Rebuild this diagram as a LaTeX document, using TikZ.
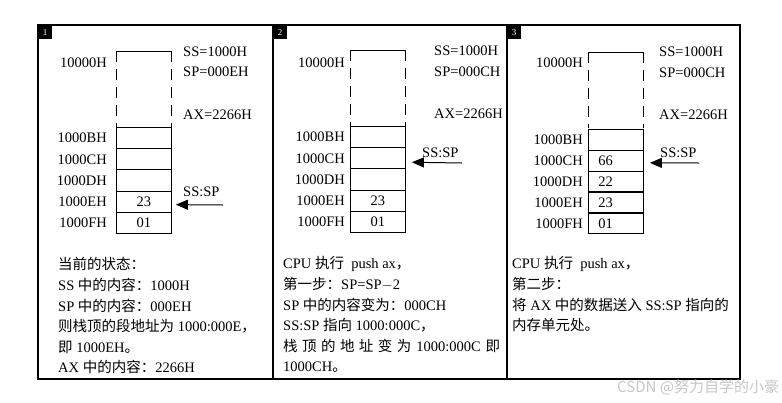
\documentclass[tikz,border=0pt]{standalone}
\usepackage{fontspec}
\setmainfont{Liberation Serif}
\newfontfamily\zhfont{Noto Sans CJK SC}
\newcommand{\zh}[1]{{\zhfont #1}}
\usetikzlibrary{arrows.meta,positioning}
\tikzset{
  cell/.style={draw,line width=0.9pt,minimum width=55pt,minimum height=21.2pt,inner sep=0pt,anchor=north west},
  addr/.style={anchor=east,inner sep=0pt},
  reg/.style={anchor=west,inner sep=0pt},
  note/.style={anchor=north west,align=left,inner sep=0pt},
  tag/.style={fill=black,text=white,minimum size=14pt,inner sep=0pt,anchor=north west,font=\fontsize{9}{9}\selectfont},
  ptr/.style={line width=1pt,-{Triangle[length=12pt,width=10pt]}},
  gapline/.style={line width=0.9pt,dash pattern=on 11pt off 7pt},
}

\begin{document}
\begin{tikzpicture}[x=1pt,y=-1pt,font=\fontsize{14.5}{20.6}\selectfont]
\useasboundingbox (0,0) rectangle (782,402);
% outer frame and panels
\draw[line width=1.5pt] (38,25) rectangle (740,379);
\draw[line width=2.5pt] (273,25) -- (273,379);
\draw[line width=2.5pt] (507,25) -- (507,379);
\node[tag] (n1) at (38,25) {1};
\node[tag] (n2) at (273,25) {2};
\node[tag] (n3) at (507,25) {3};

% stacks: open top part
\foreach \x/\t in {116/51,350/50,588/52}{
  \draw[line width=0.9pt] (\x,\t) -- ++(55,0);
  \draw[gapline] (\x,\t) -- (\x,{\t+76});
  \draw[gapline] ({\x+55},\t) -- ({\x+55},{\t+76});
}

% panel 1
\foreach \i/\v/\a in {1//1000BH,2//1000CH,3//1000DH,4/23/1000EH,5/01/1000FH}{
  \node[cell] (s1-\i) at (116,{127+(\i-1)*21.2}) {\v};
  \node[addr] (a1-\i) at ([xshift=-9pt]s1-\i.west) {\a};
}
\node[addr] (top1) at (107,63) {10000H};
\node[reg] (ss1) at (183,52) {SS=1000H};
\node[reg] (sp1) at (183,72) {SP=000EH};
\node[reg] (ax1) at (183,115) {AX=2266H};
\node[reg] (lb1) at (183,192) {SS:SP};
\coordinate (t1) at (223,205);
\draw[ptr] (t1) -- ([xshift=4pt,yshift=-3pt]s1-4.east);
\node[note] (txt1) at (58,257.5) {\zh{当前的状态：}\\
SS \zh{中的内容：}1000H\\
SP \zh{中的内容：}000EH\\
\zh{则栈顶的段地址为} 1000:000E\zh{，}\\
\zh{即} 1000EH\zh{。}\\
AX \zh{中的内容：}2266H};

% panel 2
\foreach \i/\v/\a in {1//1000BH,2//1000CH,3//1000DH,4/23/1000EH,5/01/1000FH}{
  \node[cell] (s2-\i) at (350,{126+(\i-1)*21.2}) {\v};
  \node[addr] (a2-\i) at ([xshift=-5pt]s2-\i.west) {\a};
}
\node[addr] (top2) at (345,63) {10000H};
\node[reg] (ss2) at (434,51) {SS=1000H};
\node[reg] (sp2) at (434,72) {SP=000CH};
\node[reg] (ax2) at (434,114) {AX=2266H};
\node[reg] (lb2) at (422,153) {SS:SP};
\coordinate (t2) at (462,163);
\draw[ptr] (t2) -- ([xshift=6pt,yshift=-4pt]s2-2.east);
\node[note] (txt2) at (283,256.5) {CPU \zh{执行}\ \ push ax\zh{，}\\
\zh{第一步：}SP=SP$-$2\\
SP \zh{中的内容变为：}000CH\\
SS:SP \zh{指向} 1000:000C\zh{，}\\
\makebox[217pt][s]{\zh{栈 顶 的 地 址 变 为} 1000:000C \zh{即}}\\
1000CH\zh{。}};

% panel 3
\foreach \i/\v/\a in {1//1000BH,2/66/1000CH,3/22/1000DH,4/23/1000EH,5/01/1000FH}{
  \node[cell] (s3-\i) at (588,{129+(\i-1)*20.8}) {\makebox[55pt][l]{\hspace{10pt}\v}};
  \node[addr] (a3-\i) at ([xshift=-5pt]s3-\i.west) {\a};
}
\node[addr] (top3) at (583,63) {10000H};
\node[reg] (ss3) at (659,52) {SS=1000H};
\node[reg] (sp3) at (659,73) {SP=000CH};
\node[reg] (ax3) at (659,115) {AX=2266H};
\node[reg] (lb3) at (660,153) {SS:SP};
\coordinate (t3) at (699,163);
\draw[ptr] (t3) -- ([xshift=6pt,yshift=-2pt]s3-2.east);
\node[note] (txt3) at (512,256.5) {CPU \zh{执行}\ \ push ax\zh{，}\\
\zh{第二步：}\\
\zh{将} AX \zh{中的数据送入} SS:SP \zh{指向的}\\
\zh{内存单元处。}};

% watermark
\node[anchor=west,inner sep=0pt,text=gray!45,font=\zhfont\fontsize{15}{15}\selectfont] (wm) at (617,387) {CSDN @努力自学的小豪};
\end{tikzpicture}
\end{document}
